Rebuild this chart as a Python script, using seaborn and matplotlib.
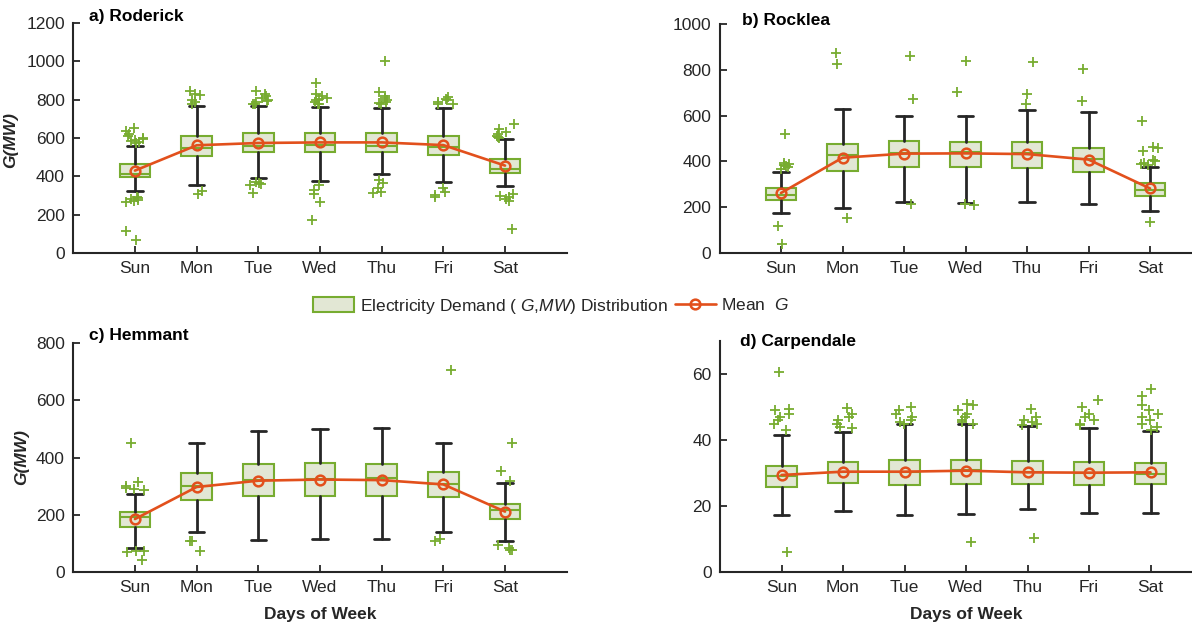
import numpy as np
import pandas as pd
import matplotlib
matplotlib.use("Agg")
import matplotlib.pyplot as plt
from matplotlib.patches import Patch
from matplotlib.lines import Line2D
import seaborn as sns

DAYS = ["Sun", "Mon", "Tue", "Wed", "Thu", "Fri", "Sat"]

# a) Roderick  (box statistics per weekday, MW)
rod_lo = [323, 355, 390, 377, 412, 372, 351]
rod_q1 = [395, 508, 525, 525, 529, 513, 416]
rod_med = [412, 550, 558, 563, 558, 555, 438]
rod_q3 = [463, 612, 624, 624, 624, 610, 490]
rod_hi = [558, 769, 769, 763, 758, 758, 595]
rod_mean = [430, 562, 574, 577, 577, 563, 456]
rod_out = [
    [575, 580, 585, 590, 595, 600, 610, 620, 635, 650, 265, 270, 275, 280, 285, 290, 117, 68],
    [780, 790, 800, 825, 830, 845, 310, 325],
    [775, 780, 790, 795, 800, 810, 820, 830, 845, 355, 360, 365, 370, 315],
    [775, 780, 790, 800, 805, 810, 820, 830, 885, 355, 330, 310, 268, 172],
    [775, 785, 790, 800, 810, 820, 840, 1000, 380, 365, 340, 320, 315],
    [775, 780, 790, 800, 805, 815, 337, 320, 305, 294],
    [600, 605, 610, 620, 630, 645, 675, 270, 280, 290, 300, 310, 125],
]

# b) Rocklea
roc_lo = [173, 198, 224, 220, 223, 214, 183]
roc_q1 = [232, 360, 377, 377, 373, 352, 250]
roc_med = [255, 428, 438, 440, 438, 411, 275]
roc_q3 = [282, 475, 489, 486, 485, 460, 307]
roc_hi = [355, 628, 600, 597, 625, 617, 377]
roc_mean = [262, 416, 434, 435, 432, 408, 282]
roc_out = [
    [520, 365, 375, 380, 385, 390, 395, 119, 39],
    [824, 872, 151],
    [860, 671, 213],
    [839, 705, 213, 208],
    [836, 695, 651],
    [802, 664],
    [578, 457, 464, 445, 385, 390, 395, 400, 405, 137],
]

# c) Hemmant
hem_lo = [85, 139, 112, 115, 115, 139, 109]
hem_q1 = [156, 250, 267, 264, 267, 261, 184]
hem_med = [193, 302, 321, 324, 327, 307, 217]
hem_q3 = [208, 345, 377, 380, 377, 351, 238]
hem_hi = [271, 450, 493, 498, 503, 450, 312]
hem_mean = [185, 297, 319, 323, 321, 306, 211]
hem_out = [
    [450, 316, 285, 290, 295, 300, 70, 72, 75, 42],
    [110, 110, 73],
    [],
    [],
    [],
    [706, 115, 109],
    [450, 353, 319, 95, 85, 77, 77],
]

# d) Carpendale
car_lo = [17.3, 18.6, 17.3, 17.5, 19.0, 18.0, 17.9]
car_q1 = [25.9, 26.9, 26.4, 26.6, 26.6, 26.4, 26.7]
car_med = [29.1, 30.4, 30.4, 30.9, 30.2, 30.1, 29.7]
car_q3 = [32.2, 33.4, 33.9, 33.9, 33.6, 33.3, 33.1]
car_hi = [41.5, 42.5, 44.7, 44.7, 44.2, 43.5, 42.8]
car_mean = [29.4, 30.4, 30.4, 30.7, 30.2, 30.1, 30.2]
car_out = [
    [60.5, 43, 45, 46, 47, 48, 49, 49.5, 6.0],
    [43.5, 44, 45, 46, 47, 48, 49.8],
    [45, 45.5, 46, 47, 48, 49, 50],
    [45, 45.5, 46, 47, 48, 49, 50.5, 51, 9.0],
    [44.5, 45, 45.5, 46, 47, 49.5, 10.2],
    [44.5, 45, 46, 47, 48, 50, 52],
    [43, 44, 45, 46, 47, 48, 49, 50.6, 53.4, 55.4],
]

GREEN = "#77ac30"
FILL = "#e2e7d4"
DARK = "#262626"
ORANGE = "#e2501c"
FS = 12.5

sns.set_theme(style="ticks")
plt.rcParams["font.family"] = ["Liberation Sans", "DejaVu Sans"]
plt.rcParams["mathtext.fontset"] = "custom"
plt.rcParams["mathtext.rm"] = "Liberation Sans"
plt.rcParams["mathtext.it"] = "Liberation Sans:italic"
plt.rcParams["mathtext.bf"] = "Liberation Sans:bold"

np.random.seed(3)

W, H = 1192, 628
fig = plt.figure(figsize=(W / 100, H / 100), dpi=100)


def px_axes(left, top, right, bottom):
    return fig.add_axes([left / W, 1 - bottom / H, (right - left) / W, (bottom - top) / H])


def draw_panel(ax, lo, q1, med, q3, hi, mean, out, ylim, yticks):
    stats = [dict(whislo=a, q1=b, med=c, q3=d, whishi=e, fliers=[])
             for a, b, c, d, e in zip(lo, q1, med, q3, hi)]
    ax.bxp(stats, positions=range(len(DAYS)), widths=0.5, patch_artist=True,
           showfliers=False, manage_ticks=False,
           boxprops=dict(facecolor=FILL, edgecolor=GREEN, linewidth=1.5),
           medianprops=dict(color=GREEN, linewidth=1.5),
           whiskerprops=dict(color=DARK, linewidth=2.0),
           capprops=dict(color=DARK, linewidth=2.0))

    day_col, val_col = [], []
    for d, vals in zip(DAYS, out):
        day_col += [d] * len(vals)
        val_col += vals
    df = pd.DataFrame({"day": day_col, "G": val_col})
    sns.stripplot(data=df, x="day", y="G", order=DAYS, ax=ax, marker="+",
                  color=GREEN, size=7.5, jitter=0.16, linewidth=1.3, zorder=3)

    sns.pointplot(x=DAYS, y=mean, order=DAYS, ax=ax, color=ORANGE,
                  errorbar=None, markers="o", markersize=7,
                  markerfacecolor="none", markeredgewidth=1.8,
                  linewidth=1.9, zorder=4)

    ax.set_xlim(-1, 7)
    ax.set_ylim(*ylim)
    ax.set_xticks(range(len(DAYS)))
    ax.set_xticklabels(DAYS)
    ax.set_yticks(yticks)
    ax.set_xlabel("")
    ax.set_ylabel("")
    for s in ("top", "right"):
        ax.spines[s].set_visible(False)
    for s in ("left", "bottom"):
        ax.spines[s].set_color(DARK)
        ax.spines[s].set_linewidth(1.5)
    ax.tick_params(direction="in", length=5, width=1.3, color=DARK,
                   labelsize=FS, labelcolor=DARK, pad=6)
    ax.grid(False)


ax_a = px_axes(73.3, 23, 566.7, 253)
draw_panel(ax_a, rod_lo, rod_q1, rod_med, rod_q3, rod_hi, rod_mean, rod_out,
           (0, 1200), range(0, 1201, 200))
ax_b = px_axes(719.5, 24, 1211.5, 253)
draw_panel(ax_b, roc_lo, roc_q1, roc_med, roc_q3, roc_hi, roc_mean, roc_out,
           (0, 1000), range(0, 1001, 200))
ax_c = px_axes(73.3, 343, 566.7, 572)
draw_panel(ax_c, hem_lo, hem_q1, hem_med, hem_q3, hem_hi, hem_mean, hem_out,
           (0, 800), range(0, 801, 200))
ax_d = px_axes(720, 341, 1212, 572)
draw_panel(ax_d, car_lo, car_q1, car_med, car_q3, car_hi, car_mean, car_out,
           (0, 70), [0, 20, 40, 60])

# panel titles
for txt, x, y in [("a) Roderick", 89, 16), ("b) Rocklea", 742, 21),
                  ("c) Hemmant", 89, 335), ("d) Carpendale", 740, 341)]:
    fig.text(x / W, 1 - y / H, txt, ha="left", va="center",
             fontsize=FS, fontweight="bold", color="black")

# axis labels
for x, y in [(11, 140), (22, 457)]:
    fig.text(x / W, 1 - y / H, "G(MW)", rotation=90, ha="center", va="center",
             fontsize=FS, fontweight="bold", fontstyle="italic", color=DARK)
for x in (320, 966):
    fig.text(x / W, 1 - 614 / H, "Days of Week", ha="center", va="center",
             fontsize=FS, fontweight="bold", color=DARK)

handles = [
    Patch(facecolor=FILL, edgecolor=GREEN, linewidth=1.5),
    Line2D([], [], color=ORANGE, linewidth=1.9, marker="o", markersize=7,
           markerfacecolor="none", markeredgewidth=1.8),
]
labels = [r"Electricity Demand ( $\mathit{G}$,$\mathit{MW}$) Distribution",
          r"Mean  $\mathit{G}$"]
fig.legend(handles, labels, loc="center", bbox_to_anchor=(551 / W, 1 - 306 / H),
           ncol=2, frameon=False, fontsize=FS, handlelength=2.4,
           handleheight=1.0, handletextpad=0.3, columnspacing=0.4,
           labelcolor=DARK)

fig.savefig("out.png", dpi=100)
